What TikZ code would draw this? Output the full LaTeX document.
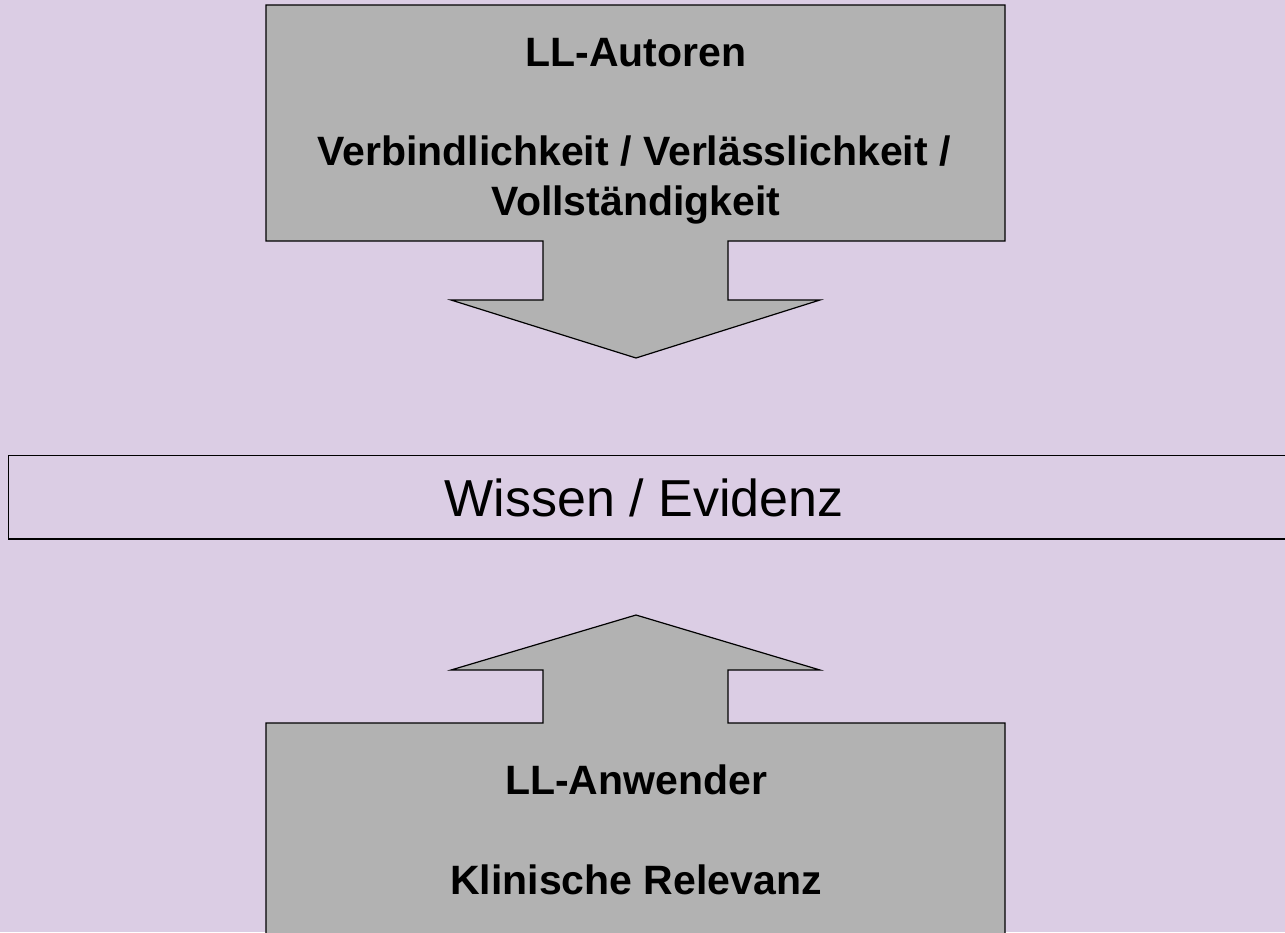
\documentclass[tikz,border=0pt]{standalone}
\usepackage{fontspec}
\setmainfont{Liberation Sans}
\definecolor{bgl}{RGB}{219,205,228}
\definecolor{boxg}{RGB}{178,178,178}
\begin{document}
\begin{tikzpicture}[x=1pt,y=-1pt,
  callout/.style={draw=black,fill=boxg,line width=1.2pt,line join=miter},
  bandbox/.style={draw=black,line width=1.4pt},
  boldtxt/.style={anchor=base,inner sep=0pt,font=\fontsize{41}{50}\selectfont\bfseries},
  bigtxt/.style={anchor=base,inner sep=0pt,font=\fontsize{52}{60}\selectfont}]
\fill[bgl] (0,0) rectangle (1285,932);
\useasboundingbox (0,0) rectangle (1285,932);
\clip (0,0) rectangle (1285,932);
% top callout with down arrow
\path[callout] (266,5) -- (1005,5) -- (1005,241) -- (728,241) -- (728,300) -- (820,300)
  -- (636,358) -- (451,300) -- (543,300) -- (543,241) -- (266,241) -- cycle;
% middle band
\path[bandbox] (8.5,455.5) rectangle (1300,539);
% bottom callout with up arrow
\path[callout] (266,950) -- (266,723) -- (543,723) -- (543,670) -- (451,670) -- (636,615)
  -- (820,670) -- (728,670) -- (728,723) -- (1005,723) -- (1005,950) -- cycle;
% texts
\node[boldtxt] (autor) at (636,66.7) {LL-Autoren};
\node[boldtxt] (verb) at (634,165.7) {Verbindlichkeit / Verlässlichkeit /};
\node[boldtxt] (voll) at (636,215.7) {Vollständigkeit};
\node[bigtxt] (wissen) at (644,516.7) {Wissen / Evidenz};
\node[boldtxt] (anw) at (636,794) {LL-Anwender};
\node[boldtxt] (klin) at (636,894) {Klinische Relevanz};
\end{tikzpicture}
\end{document}
